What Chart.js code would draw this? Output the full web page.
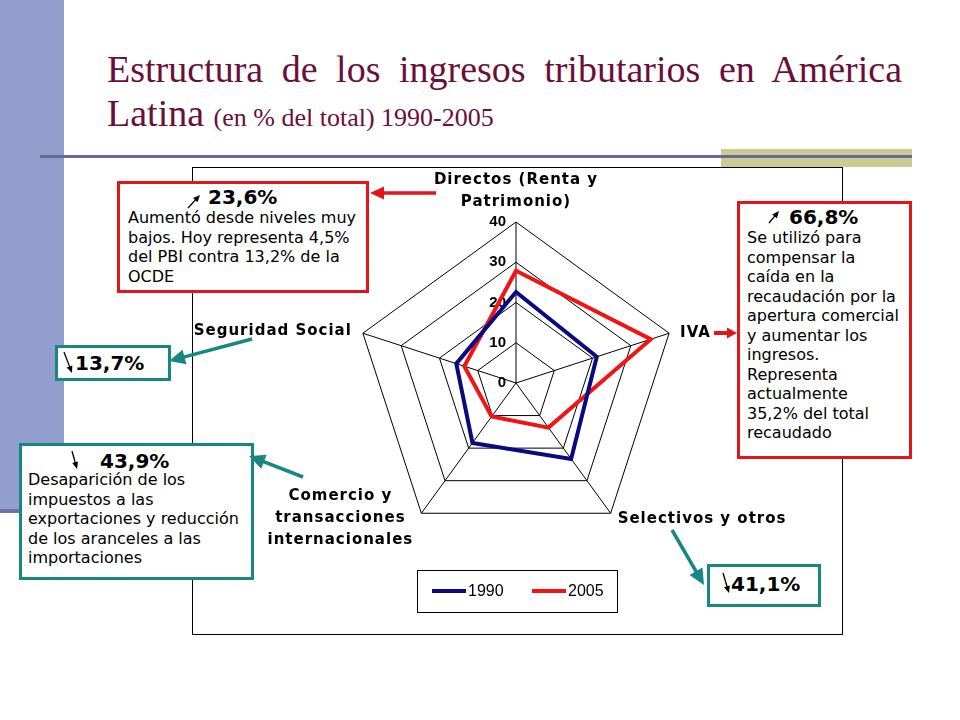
<!DOCTYPE html>
<html>
<head>
<meta charset="utf-8">
<script src="https://cdn.jsdelivr.net/npm/chart.js@4.4.1/dist/chart.umd.min.js"></script>
<style>
html,body{margin:0;padding:0;width:960px;height:720px;overflow:hidden;background:#fff;}
.abs{position:absolute;}
#band{left:0;top:0;width:64px;height:511px;background:#929ECE;}
#bandline{left:0;top:509px;width:64px;height:4px;background:#6A72A8;}
#olive{left:721px;top:149px;width:191px;height:18px;background:#CBCB96;}
#rule{left:40px;top:155px;width:872px;height:3px;background:#676A95;}
#frame{left:192px;top:167px;width:649px;height:466px;border:1px solid #000;background:#fff;}
.title{font-family:'Liberation Serif','Times New Roman',serif;color:#6A0F3A;white-space:nowrap;}
#t1{left:107px;top:47px;width:795px;font-size:38px;line-height:44px;text-align:justify;text-align-last:justify;}
#t2{left:107px;top:91px;font-size:38px;line-height:44px;}
#t2 span{font-size:26px;}
#cwrap{left:0;top:0;width:960px;height:720px;}
.box{position:absolute;box-sizing:border-box;background:#fff;border:3px solid;font-family:'DejaVu Sans',Verdana,sans-serif;color:#000;white-space:nowrap;}
.red{border-color:#E3151B;}
.teal{border-color:#178782;}
.hd{position:absolute;font-weight:bold;font-size:20px;line-height:24px;}
.tx{position:absolute;font-size:16px;line-height:19.5px;}
#svg{position:absolute;left:0;top:0;width:960px;height:720px;pointer-events:none;}
</style>
</head>
<body>
<div id="band" class="abs"></div>
<div id="bandline" class="abs"></div>
<div id="olive" class="abs"></div>
<div id="rule" class="abs"></div>
<div id="frame" class="abs"></div>
<div id="t1" class="abs title">Estructura de los ingresos tributarios en América</div>
<div id="t2" class="abs title">Latina <span>(en % del total) 1990-2005</span></div>
<div id="cwrap" class="abs"><canvas id="c" width="960" height="720"></canvas></div>

<div class="box red" style="left:117px;top:181px;width:252px;height:112px;">
  <div class="hd" style="left:88px;top:1px;">23,6%</div>
  <div class="tx" style="left:8px;top:24px;">Aumentó desde niveles muy<br>bajos. Hoy representa 4,5%<br>del PBI contra 13,2% de la<br>OCDE</div>
</div>
<div class="box red" style="left:737px;top:201px;width:175px;height:258px;">
  <div class="hd" style="left:49px;top:1px;">66,8%</div>
  <div class="tx" style="left:7px;top:24px;">Se utilizó para<br>compensar la<br>caída en la<br>recaudación por la<br>apertura comercial<br>y aumentar los<br>ingresos.<br>Representa<br>actualmente<br>35,2% del total<br>recaudado</div>
</div>
<div class="box teal" style="left:55px;top:345px;width:116px;height:36px;">
  <div class="hd" style="left:17px;top:3px;">13,7%</div>
</div>
<div class="box teal" style="left:19px;top:443px;width:235px;height:137px;">
  <div class="hd" style="left:78px;top:3px;">43,9%</div>
  <div class="tx" style="left:6px;top:24px;">Desaparición de los<br>impuestos a las<br>exportaciones y reducción<br>de los aranceles a las<br>importaciones</div>
</div>
<div class="box teal" style="left:707px;top:564px;width:114px;height:43px;">
  <div class="hd" style="left:21px;top:5px;">41,1%</div>
</div>
<svg id="svg" xmlns="http://www.w3.org/2000/svg"></svg>

<script>
// ---- data ----
const categories = [
  ['Directos (Renta y', 'Patrimonio)'],
  ['IVA'],
  ['Selectivos y otros'],
  ['Comercio y', 'transacciones', 'internacionales'],
  ['Seguridad Social']
];
const seriesNames = ['1990', '2005'];
const values1990 = [22.6, 21.1, 23.3, 18.4, 15.6];
const values2005 = [27.9, 35.2, 13.7, 10.3, 13.5];
const tickValues = [0, 10, 20, 30, 40];

const blue = '#0A0A80';
const red = '#F01414';

// label offsets relative to each vertex (style only)
const labelStyle = [
  {dx: 0, dy: -42, align: 'center'},
  {dx: 11, dy: 0, align: 'left'},
  {dx: 7, dy: 6, align: 'left'},
  {dx: -81, dy: -17, align: 'center'},
  {dx: -11, dy: -2, align: 'right'}
];
const labelLineH = 22;

const decorPlugin = {
  id: 'decor',
  beforeDatasetsDraw(chart) {
    const s = chart.scales.r;
    const ctx = chart.ctx;
    ctx.save();
    ctx.font = 'bold 15px "Liberation Sans", Arial, sans-serif';
    ctx.fillStyle = '#000';
    ctx.textAlign = 'right';
    ctx.textBaseline = 'middle';
    tickValues.forEach(v => {
      const d = s.getDistanceFromCenterForValue(v);
      ctx.fillText(String(v), s.xCenter - 10, s.yCenter - d);
    });
    ctx.restore();
  },
  afterDraw(chart) {
    const s = chart.scales.r;
    const ctx = chart.ctx;
    const R = s.drawingArea;
    ctx.save();
    ctx.font = 'bold 15px "DejaVu Sans", Verdana, sans-serif';
    ctx.letterSpacing = '1px';
    ctx.fillStyle = '#000';
    ctx.textBaseline = 'middle';
    chart.data.labels.forEach((lab, i) => {
      const p = s.getPointPosition(i, R);
      const st = labelStyle[i];
      ctx.textAlign = st.align;
      const lines = Array.isArray(lab) ? lab : [lab];
      lines.forEach((ln, k) => {
        ctx.fillText(ln, p.x + st.dx, p.y + st.dy + k * labelLineH);
      });
    });
    // legend
    const lx = 417, ly = 570, lw = 200, lh = 42;
    ctx.letterSpacing = '0px';
    ctx.lineWidth = 1;
    ctx.strokeStyle = '#000';
    ctx.strokeRect(lx + 0.5, ly + 0.5, lw, lh);
    ctx.font = '16px "Liberation Sans", Arial, sans-serif';
    ctx.textAlign = 'left';
    chart.data.datasets.forEach((ds, i) => {
      const x0 = lx + 15 + i * 100;
      const y0 = ly + 21;
      ctx.strokeStyle = ds.borderColor;
      ctx.lineWidth = 4;
      ctx.beginPath();
      ctx.moveTo(x0, y0);
      ctx.lineTo(x0 + 34, y0);
      ctx.stroke();
      ctx.fillStyle = '#000';
      ctx.fillText(ds.label, x0 + 36, y0 + 1);
    });
    ctx.restore();
  }
};

new Chart(document.getElementById('c'), {
  type: 'radar',
  data: {
    labels: categories,
    datasets: [
      {label: seriesNames[0], data: values1990, borderColor: blue, backgroundColor: 'transparent', borderWidth: 4, fill: false},
      {label: seriesNames[1], data: values2005, borderColor: red, backgroundColor: 'transparent', borderWidth: 4, fill: false}
    ]
  },
  options: {
    responsive: false,
    animation: false,
    layout: {padding: {left: 355, right: 283, top: 222, bottom: 176}},
    plugins: {legend: {display: false}, tooltip: {enabled: false}, title: {display: false}},
    elements: {point: {radius: 0, hoverRadius: 0}, line: {tension: 0, borderJoinStyle: 'miter'}},
    scales: {
      r: {
        min: 0, max: 40,
        ticks: {display: false, stepSize: 10},
        pointLabels: {display: false},
        grid: {color: '#000', lineWidth: 1},
        angleLines: {color: '#000', lineWidth: 1}
      }
    }
  },
  plugins: [decorPlugin]
});

// ---- decorative arrows ----
const svg = document.getElementById('svg');
const NS = 'http://www.w3.org/2000/svg';
function arrow(x1, y1, x2, y2, color, w, hl, hw) {
  const dx = x2 - x1, dy = y2 - y1, L = Math.hypot(dx, dy);
  const ux = dx / L, uy = dy / L, px = -uy, py = ux;
  const bx = x2 - ux * hl, by = y2 - uy * hl;
  const line = document.createElementNS(NS, 'line');
  line.setAttribute('x1', x1); line.setAttribute('y1', y1);
  line.setAttribute('x2', bx + ux); line.setAttribute('y2', by + uy);
  line.setAttribute('stroke', color); line.setAttribute('stroke-width', w);
  svg.appendChild(line);
  const poly = document.createElementNS(NS, 'polygon');
  poly.setAttribute('points', `${x2},${y2} ${bx + px * hw / 2},${by + py * hw / 2} ${bx - px * hw / 2},${by - py * hw / 2}`);
  poly.setAttribute('fill', color);
  svg.appendChild(poly);
}
arrow(436, 193, 370, 193, '#E3151B', 3.5, 14, 13);
arrow(714, 333, 737, 333, '#E3151B', 4, 10, 11);
arrow(252, 339, 169, 361, '#178782', 3.5, 16, 15);
arrow(303, 477, 249, 456, '#178782', 3.5, 16, 15);
arrow(672, 530, 704, 585, '#178782', 3.5, 16, 15);
arrow(188, 208, 200, 195, '#000', 1.3, 7, 6);
arrow(769, 223, 779, 211, '#000', 1.3, 7, 6);
arrow(64, 352, 72, 373, '#000', 1.3, 7, 6);
arrow(72, 451, 77, 469, '#000', 1.3, 7, 6);
arrow(723, 573, 729, 593, '#000', 1.3, 7, 6);
</script>
</body>
</html>
